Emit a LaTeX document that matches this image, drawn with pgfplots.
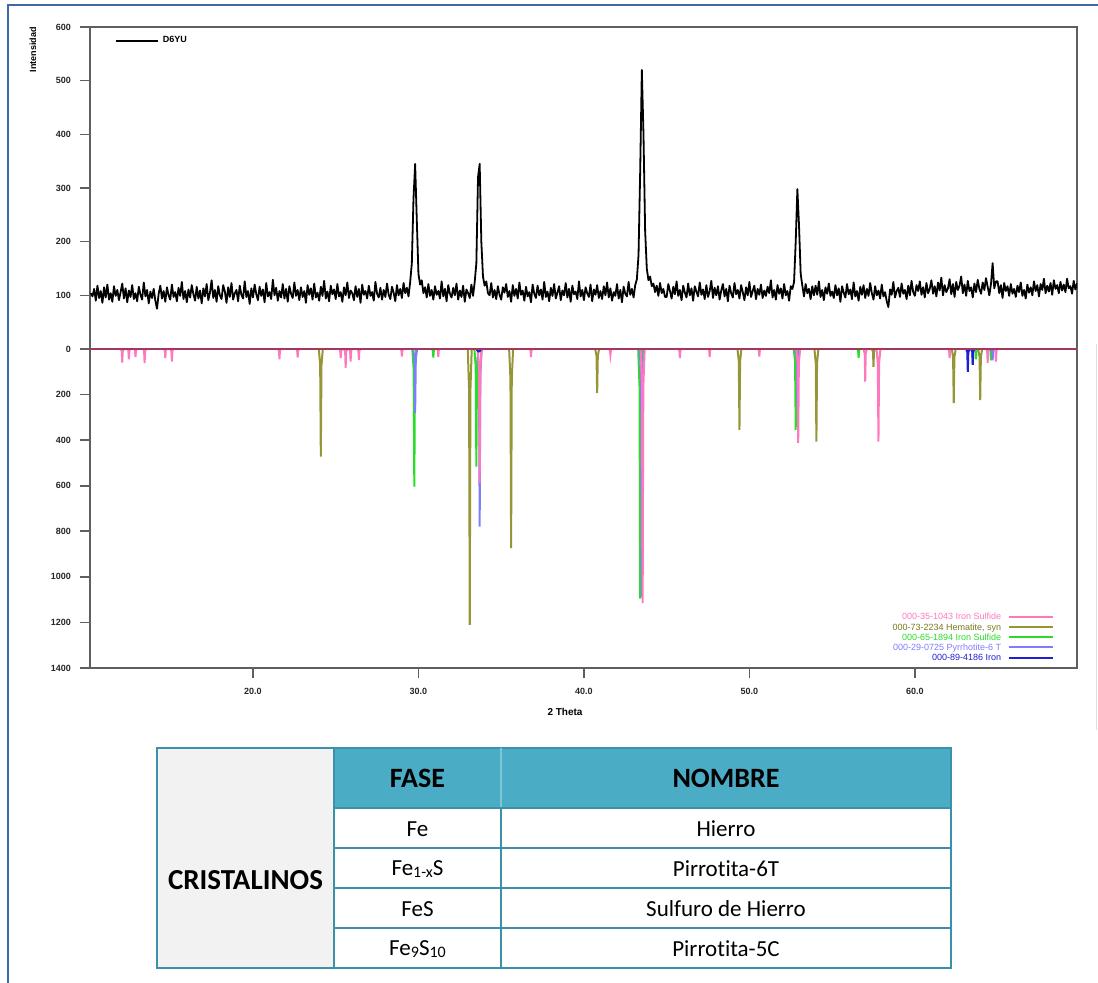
\documentclass[border=0pt]{standalone}
\usepackage{pgfplots}
\pgfplotsset{compat=1.18}
\usepackage{fontspec}
\setmainfont{Liberation Sans}
\newfontfamily\carlito[Ligatures=NoCommon]{Carlito}
\definecolor{framegray}{RGB}{95,95,95}
\definecolor{zeroc}{RGB}{165,55,95}
\definecolor{pinkc}{RGB}{255,120,190}
\definecolor{olivec}{RGB}{150,150,55}
\definecolor{olivet}{RGB}{120,120,30}
\definecolor{greenc}{RGB}{40,220,40}
\definecolor{violc}{RGB}{125,125,255}
\definecolor{dbluec}{RGB}{30,30,210}
\definecolor{bluefr}{RGB}{65,105,170}
\definecolor{tealh}{RGB}{75,172,198}
\definecolor{tealb}{RGB}{60,145,170}
\definecolor{cellgray}{RGB}{242,242,242}
\begin{document}
\begin{tikzpicture}
\tikzset{lbl/.style={font=\fontsize{4.5}{5}\selectfont\bfseries}}
% ---------------- upper panel: measured pattern
\begin{axis}[
  at={(45pt,-174.5pt)}, anchor=south west,
  scale only axis, width=493.5pt, height=161pt,
  xmin=10.15, xmax=69.8, ymin=0, ymax=600,
  xtick=\empty, ytick={100,200,300,400,500,600}, yticklabels={100,200,300,400,500,600},
  ytick pos=left, tick align=outside, major tick length=5pt,
  axis line style={framegray, line width=1pt},
  major tick style={framegray, line width=0.8pt},
  tick label style={font=\fontsize{4.5}{5}\selectfont\bfseries, text=black!85},
  yticklabel style={xshift=-1pt},
  legend style={at={(0.025,0.985)}, anchor=north west, draw=none, fill=none,
    font=\fontsize{4.5}{5}\selectfont\bfseries, inner sep=0pt},
  legend image code/.code={\draw[#1] (0pt,0pt) -- (21pt,0pt);},
]
\addplot[black, line width=0.9pt, line join=round] coordinates {
(10.2,104)(10.3,98)(10.4,112)(10.5,90)(10.6,118)(10.7,95)(10.8,108)(10.9,86)
(11.0,115)(11.1,96)(11.2,120)(11.3,92)(11.4,104)(11.5,88)(11.6,117)(11.7,99)(11.8,110)(11.9,91)
(12.0,106)(12.1,122)(12.2,94)(12.3,113)(12.4,87)(12.5,109)(12.6,97)(12.7,119)(12.8,93)(12.9,104)
(13.0,89)(13.1,116)(13.2,101)(13.3,92)(13.4,124)(13.5,98)(13.6,110)(13.7,85)(13.8,107)(13.9,95)
(14.0,112)(14.1,90)(14.2,75)(14.3,103)(14.4,118)(14.5,94)(14.6,108)(14.7,88)(14.8,115)(14.9,100)
(15.0,92)(15.1,120)(15.2,97)(15.3,106)(15.4,89)(15.5,114)(15.6,99)(15.7,125)(15.8,93)(15.9,108)
(16.0,87)(16.1,111)(16.2,96)(16.3,119)(16.4,102)(16.5,90)(16.6,116)(16.7,94)(16.8,109)(16.9,85)
(17.0,113)(17.1,98)(17.2,121)(17.3,91)(17.4,105)(17.5,128)(17.6,95)(17.7,110)(17.8,88)(17.9,117)
(18.0,100)(18.1,93)(18.2,119)(18.3,107)(18.4,86)(18.5,115)(18.6,97)(18.7,123)(18.8,92)(18.9,104)
(19.0,110)(19.1,89)(19.2,118)(19.3,101)(19.4,94)(19.5,126)(19.6,97)(19.7,108)(19.8,84)(19.9,113)
(20.0,96)(20.1,120)(20.2,102)(20.3,91)(20.4,116)(20.5,99)(20.6,111)(20.7,87)(20.8,123)(20.9,98)
(21.0,106)(21.1,93)(21.2,129)(21.3,100)(21.4,114)(21.5,90)(21.6,108)(21.7,96)(21.8,121)(21.9,94)
(22.0,112)(22.1,88)(22.2,117)(22.3,103)(22.4,95)(22.5,124)(22.6,99)(22.7,110)(22.8,91)(22.9,115)
(23.0,97)(23.1,108)(23.2,86)(23.3,119)(23.4,101)(23.5,113)(23.6,92)(23.7,122)(23.8,96)(23.9,105)
(24.0,90)(24.1,116)(24.2,99)(24.3,127)(24.4,94)(24.5,107)(24.6,89)(24.7,118)(24.8,102)(24.9,111)
(25.0,93)(25.1,121)(25.2,98)(25.3,106)(25.4,88)(25.5,115)(25.6,100)(25.7,124)(25.8,95)(25.9,109)
(26.0,104)(26.1,91)(26.2,117)(26.3,97)(26.4,112)(26.5,86)(26.6,120)(26.7,101)(26.8,108)(26.9,94)
(27.0,118)(27.1,99)(27.2,106)(27.3,90)(27.4,125)(27.5,103)(27.6,96)(27.7,114)(27.8,92)(27.9,110)
(28.0,97)(28.1,122)(28.2,101)(28.3,93)(28.4,116)(28.5,105)(28.6,89)(28.7,119)(28.8,100)(28.9,112)
(29.0,95)(29.1,123)(29.2,104)(29.3,114)(29.4,98)(29.5,125)(29.6,160)(29.7,280)(29.8,345)(29.9,240)
(30.0,140)(30.1,120)(30.2,128)(30.3,104)(30.4,115)(30.5,96)(30.6,121)(30.7,99)(30.8,110)(30.9,92)
(31.0,117)(31.1,101)(31.2,108)(31.3,94)(31.4,126)(31.5,98)(31.6,112)(31.7,89)(31.8,119)(31.9,103)
(32.0,96)(32.1,114)(32.2,100)(32.3,122)(32.4,92)(32.5,109)(32.6,97)(32.7,118)(32.8,88)(32.9,111)
(33.0,104)(33.1,95)(33.2,120)(33.3,99)(33.4,125)(33.5,160)(33.6,320)(33.7,345)(33.8,200)(33.9,135)
(34.0,118)(34.1,126)(34.2,104)(34.3,100)(34.4,123)(34.5,96)(34.6,110)(34.7,93)(34.8,117)(34.9,101)
(35.0,92)(35.1,115)(35.2,105)(35.3,121)(35.4,97)(35.5,108)(35.6,88)(35.7,119)(35.8,99)(35.9,112)
(36.0,94)(36.1,124)(36.2,101)(36.3,109)(36.4,90)(36.5,116)(36.6,98)(36.7,106)(36.8,87)(36.9,120)
(37.0,103)(37.1,95)(37.2,118)(37.3,100)(37.4,111)(37.5,92)(37.6,125)(37.7,97)(37.8,107)(37.9,89)
(38.0,114)(38.1,99)(38.2,121)(38.3,94)(38.4,105)(38.5,117)(38.6,91)(38.7,109)(38.8,100)(38.9,123)
(39.0,96)(39.1,112)(39.2,88)(39.3,118)(39.4,102)(39.5,107)(39.6,93)(39.7,126)(39.8,98)(39.9,110)
(40.0,91)(40.1,115)(40.2,104)(40.3,97)(40.4,120)(40.5,89)(40.6,111)(40.7,101)(40.8,119)(40.9,95)
(41.0,108)(41.1,93)(41.2,117)(41.3,100)(41.4,124)(41.5,96)(41.6,113)(41.7,90)(41.8,106)(41.9,99)
(42.0,121)(42.1,94)(42.2,110)(42.3,87)(42.4,116)(42.5,103)(42.6,98)(42.7,125)(42.8,101)(42.9,112)
(43.0,96)(43.1,119)(43.2,130)(43.3,175)(43.4,330)(43.5,520)(43.6,400)(43.7,220)(43.8,150)(43.9,128)
(44.0,135)(44.1,117)(44.2,122)(44.3,106)(44.4,118)(44.5,99)(44.6,123)(44.7,104)(44.8,112)(44.9,97)
(45.0,97)(45.1,121)(45.2,108)(45.3,94)(45.4,116)(45.5,102)(45.6,126)(45.7,99)(45.8,110)(45.9,91)
(46.0,118)(46.1,105)(46.2,96)(46.3,122)(46.4,100)(46.5,113)(46.6,90)(46.7,117)(46.8,107)(46.9,98)
(47.0,124)(47.1,101)(47.2,111)(47.3,93)(47.4,119)(47.5,97)(47.6,108)(47.7,127)(47.8,95)(47.9,114)
(48.0,100)(48.1,117)(48.2,92)(48.3,109)(48.4,121)(48.5,98)(48.6,112)(48.7,89)(48.8,118)(48.9,104)
(49.0,96)(49.1,123)(49.2,102)(49.3,110)(49.4,94)(49.5,119)(49.6,106)(49.7,91)(49.8,115)(49.9,100)
(50.0,125)(50.1,97)(50.2,108)(50.3,118)(50.4,93)(50.5,112)(50.6,101)(50.7,120)(50.8,95)(50.9,109)
(51.0,99)(51.1,116)(51.2,104)(51.3,128)(51.4,96)(51.5,110)(51.6,92)(51.7,119)(51.8,103)(51.9,113)
(52.0,94)(52.1,121)(52.2,100)(52.3,108)(52.4,90)(52.5,117)(52.6,112)(52.7,125)(52.8,200)(52.9,298)
(53.0,230)(53.1,140)(53.2,118)(53.3,98)(53.4,121)(53.5,104)(53.6,112)(53.7,93)(53.8,117)(53.9,100)
(54.0,118)(54.1,101)(54.2,126)(54.3,97)(54.4,110)(54.5,91)(54.6,115)(54.7,103)(54.8,122)(54.9,99)
(55.0,107)(55.1,95)(55.2,119)(55.3,100)(55.4,113)(55.5,88)(55.6,117)(55.7,105)(55.8,96)(55.9,121)
(56.0,102)(56.1,111)(56.2,93)(56.3,124)(56.4,98)(56.5,108)(56.6,90)(56.7,116)(56.8,101)(56.9,119)
(57.0,95)(57.1,112)(57.2,99)(57.3,123)(57.4,104)(57.5,92)(57.6,117)(57.7,100)(57.8,109)(57.9,94)
(58.0,120)(58.1,98)(58.2,106)(58.3,89)(58.4,78)(58.5,111)(58.6,101)(58.7,125)(58.8,96)(58.9,108)
(59.0,114)(59.1,97)(59.2,122)(59.3,103)(59.4,110)(59.5,93)(59.6,118)(59.7,100)(59.8,127)(59.9,106)
(60.0,99)(60.1,119)(60.2,108)(60.3,126)(60.4,101)(60.5,115)(60.6,96)(60.7,123)(60.8,104)(60.9,112)
(61.0,128)(61.1,103)(61.2,117)(61.3,98)(61.4,124)(61.5,109)(61.6,133)(61.7,100)(61.8,119)(61.9,106)
(62.0,113)(62.1,130)(62.2,102)(62.3,121)(62.4,97)(62.5,125)(62.6,110)(62.7,118)(62.8,135)(62.9,104)
(63.0,120)(63.1,99)(63.2,127)(63.3,108)(63.4,115)(63.5,96)(63.6,122)(63.7,106)(63.8,129)(63.9,112)
(64.0,103)(64.1,124)(64.2,110)(64.3,132)(64.4,116)(64.5,100)(64.6,121)(64.7,160)(64.8,113)(64.9,126)
(65.0,126)(65.1,104)(65.2,119)(65.3,95)(65.4,123)(65.5,108)(65.6,117)(65.7,99)(65.8,121)(65.9,103)
(66.0,112)(66.1,97)(66.2,118)(66.3,106)(66.4,124)(66.5,99)(66.6,110)(66.7,94)(66.8,120)(66.9,105)
(67.0,115)(67.1,100)(67.2,126)(67.3,108)(67.4,119)(67.5,98)(67.6,121)(67.7,110)(67.8,131)(67.9,104)
(68.0,118)(68.1,107)(68.2,123)(68.3,101)(68.4,128)(68.5,112)(68.6,119)(68.7,104)(68.8,125)(68.9,109)
(69.0,120)(69.1,106)(69.2,131)(69.3,113)(69.4,117)(69.5,103)(69.6,127)(69.7,111)(69.8,122)(69.9,108)
(70.0,125)};
\addlegendentry{D6YU}
\end{axis}
% ---------------- lower panel: reference patterns
\begin{axis}[
  at={(45pt,-174.5pt)}, anchor=north west,
  scale only axis, width=493.5pt, height=159.5pt,
  xmin=10.15, xmax=69.8, ymin=-1400, ymax=0,
  xtick={20,30,40,50,60}, xticklabels={20.0,30.0,40.0,50.0,60.0},
  ytick={-1400,-1200,-1000,-800,-600,-400,-200,0},
  yticklabels={1400,1200,1000,800,600,400,200,0},
  xtick pos=left, ytick pos=left, tick align=outside, major tick length=5pt,
  axis line style={framegray, line width=1pt},
  major tick style={framegray, line width=0.8pt},
  tick label style={font=\fontsize{4.5}{5}\selectfont\bfseries, text=black!85},
  yticklabel style={xshift=-1pt},
  xticklabel style={yshift=-1.5pt},
  legend plot pos=right, legend cell align=right,
  legend style={at={(0.977,0.176)}, anchor=north east, draw=none, fill=none,
    font=\fontsize{4.5}{5}\selectfont, inner sep=0pt, row sep=0pt, column sep=3pt,
    nodes={inner sep=0.4pt, text height=3.4pt, text depth=0.9pt}},
  legend image code/.code={\draw[#1] (0pt,0.3pt) -- (22pt,0.3pt);},
]
\addlegendimage{pinkc, line width=1pt}
\addlegendentry{\textcolor{pinkc}{000-35-1043 Iron Sulfide}}
\addlegendimage{olivec, line width=1pt}
\addlegendentry{\textcolor{olivet}{000-73-2234 Hematite, syn}}
\addlegendimage{greenc, line width=1pt}
\addlegendentry{\textcolor{greenc}{000-65-1894 Iron Sulfide}}
\addlegendimage{violc, line width=1pt}
\addlegendentry{\textcolor{violc}{000-29-0725 Pyrrhotite-6 T}}
\addlegendimage{dbluec, line width=1pt}
\addlegendentry{\textcolor{dbluec}{000-89-4186 Iron}}
% Hematite
\addplot[olivec, line width=1pt, forget plot] coordinates {
(10.15,0)
(23.98,0)(24.06,-71)(24.1,-472)(24.14,-71)(24.22,0)
(32.98,0)(33.06,-182)(33.1,-1211)(33.14,-182)(33.22,0)
(35.48,0)(35.56,-131)(35.6,-874)(35.64,-131)(35.72,0)
(40.68,0)(40.76,-29)(40.8,-194)(40.84,-29)(40.92,0)
(49.28,0)(49.36,-53)(49.4,-355)(49.44,-53)(49.52,0)
(53.93,0)(54.01,-61)(54.05,-407)(54.09,-61)(54.17,0)
(57.4,0)(57.47,-12)(57.5,-78)(57.53,-12)(57.6,0)
(62.23,0)(62.31,-36)(62.35,-237)(62.39,-36)(62.47,0)
(63.83,0)(63.91,-34)(63.95,-224)(63.99,-34)(64.07,0)
(69.8,0)};
% Iron sulfide 65-1894
\addplot[greenc, line width=1pt, forget plot] coordinates {
(10.15,0)
(29.63,0)(29.71,-91)(29.75,-604)(29.79,-91)(29.87,0)
(30.8,0)(30.87,-6)(30.9,-38)(30.93,-6)(31.0,0)
(33.38,0)(33.46,-77)(33.5,-516)(33.54,-77)(33.62,0)
(43.28,0)(43.36,-164)(43.4,-1095)(43.44,-164)(43.52,0)
(52.68,0)(52.76,-53)(52.8,-355)(52.84,-53)(52.92,0)
(56.5,0)(56.57,-6)(56.6,-39)(56.63,-6)(56.7,0)
(63.6,0)(63.67,-7)(63.7,-45)(63.73,-7)(63.8,0)
(64.5,0)(64.57,-8)(64.6,-50)(64.63,-8)(64.7,0)
(69.8,0)};
% Pyrrhotite-6T
\addplot[violc, line width=1pt, forget plot] coordinates {
(10.15,0)
(29.68,0)(29.76,-42)(29.8,-281)(29.84,-42)(29.92,0)
(33.58,0)(33.66,-117)(33.7,-779)(33.74,-117)(33.82,0)
(43.38,0)(43.46,-164)(43.5,-1090)(43.54,-164)(43.62,0)
(52.78,0)(52.86,-38)(52.9,-254)(52.94,-38)(53.02,0)
(63.4,0)(63.47,-11)(63.5,-70)(63.53,-11)(63.6,0)
(64.6,0)(64.67,-8)(64.7,-50)(64.73,-8)(64.8,0)
(69.8,0)};
% Iron sulfide 35-1043
\addplot[pinkc, line width=1pt, forget plot] coordinates {
(10.15,0)
(12.0,0)(12.07,-9)(12.1,-60)(12.13,-9)(12.2,0)
(12.4,0)(12.47,-7)(12.5,-45)(12.53,-7)(12.6,0)
(12.8,0)(12.87,-5)(12.9,-35)(12.93,-5)(13.0,0)
(13.35,0)(13.42,-9)(13.45,-62)(13.48,-9)(13.55,0)
(14.6,0)(14.67,-6)(14.7,-40)(14.73,-6)(14.8,0)
(15.0,0)(15.07,-8)(15.1,-55)(15.13,-8)(15.2,0)
(21.5,0)(21.57,-7)(21.6,-45)(21.63,-7)(21.7,0)
(22.6,0)(22.67,-6)(22.7,-38)(22.73,-6)(22.8,0)
(25.2,0)(25.27,-6)(25.3,-40)(25.33,-6)(25.4,0)
(25.5,0)(25.57,-12)(25.6,-83)(25.63,-12)(25.7,0)
(25.8,0)(25.87,-8)(25.9,-55)(25.93,-8)(26.0,0)
(26.3,0)(26.37,-7)(26.4,-48)(26.43,-7)(26.5,0)
(28.9,0)(28.97,-5)(29.0,-33)(29.03,-5)(29.1,0)
(31.1,0)(31.17,-5)(31.2,-35)(31.23,-5)(31.3,0)
(33.58,0)(33.66,-88)(33.7,-589)(33.74,-88)(33.82,0)
(36.7,0)(36.77,-5)(36.8,-35)(36.83,-5)(36.9,0)
(41.5,0)(41.57,-4)(41.6,-25)(41.63,-4)(41.7,0)
(43.43,0)(43.51,-167)(43.55,-1115)(43.59,-167)(43.67,0)
(45.7,0)(45.77,-6)(45.8,-40)(45.83,-6)(45.9,0)
(47.5,0)(47.57,-5)(47.6,-35)(47.63,-5)(47.7,0)
(50.5,0)(50.57,-5)(50.6,-33)(50.63,-5)(50.7,0)
(52.83,0)(52.91,-62)(52.95,-412)(52.99,-62)(53.07,0)
(56.9,0)(56.97,-21)(57.0,-143)(57.03,-21)(57.1,0)
(57.68,0)(57.76,-61)(57.8,-407)(57.84,-61)(57.92,0)
(62.0,0)(62.07,-6)(62.1,-40)(62.13,-6)(62.2,0)
(64.3,0)(64.37,-9)(64.4,-61)(64.43,-9)(64.5,0)
(64.8,0)(64.87,-8)(64.9,-55)(64.93,-8)(65.0,0)
(69.8,0)};
% Iron
\addplot[dbluec, line width=1pt, forget plot] coordinates {
(33.5,0)(33.6,-10)(33.7,-10)(33.8,0)
(63.1,0)(63.17,-15)(63.2,-100)(63.23,-15)(63.3,0)
(63.4,0)(63.47,-11)(63.5,-70)(63.53,-11)(63.6,0)};
% zero line
\addplot[zeroc, line width=0.9pt, forget plot] coordinates {(10.15,0)(69.8,0)};
\end{axis}
% axis titles
\node[lbl, rotate=90] at (16.5pt,-25pt) {Intensidad};
\node[lbl, font=\fontsize{5}{6}\selectfont\bfseries] at (282.5pt,-356pt) {2 Theta};
% outer frame
\draw[bluefr, line width=1pt] (4pt,-491.5pt) -- (4pt,-2.5pt) -- (549pt,-2.5pt);
\draw[black!12, line width=0.4pt] (548pt,-172pt) -- (548pt,-365pt);
% ---------------- table
\fill[cellgray] (78.5pt,-374pt) rectangle (167pt,-484pt);
\fill[tealh] (167pt,-374pt) rectangle (475.5pt,-404pt);
\begin{scope}[tealb, line width=1pt]
\draw (78.5pt,-374pt) rectangle (475.5pt,-484pt);
\draw (167pt,-374pt) -- (167pt,-484pt);
\draw (250.5pt,-404pt) -- (250.5pt,-484pt);
\draw[tealh!70!white, line width=0.6pt] (250.5pt,-374pt) -- (250.5pt,-404pt);
\draw (167pt,-404pt) -- (475.5pt,-404pt);
\draw (167pt,-424pt) -- (475.5pt,-424pt);
\draw (167pt,-444pt) -- (475.5pt,-444pt);
\draw (167pt,-464pt) -- (475.5pt,-464pt);
\end{scope}
\begin{scope}[every node/.style={font=\carlito\fontsize{11.5}{13}\selectfont, inner sep=0pt}]
\node[font=\carlito\bfseries\fontsize{14}{16}\selectfont] at (208.75pt,-389pt) {FASE};
\node[font=\carlito\bfseries\fontsize{14}{16}\selectfont] at (363pt,-389pt) {NOMBRE};
\node[font=\carlito\bfseries\fontsize{14.5}{16}\selectfont] at (122.75pt,-440pt) {CRISTALINOS};
\node at (208.75pt,-414.5pt) {Fe};
\node at (363pt,-414.5pt) {Hierro};
\node at (208.75pt,-434.5pt) {Fe\raisebox{-0.8pt}{\fontsize{8}{8}\selectfont 1-x}S};
\node at (363pt,-434.5pt) {Pirrotita-6T};
\node at (208.75pt,-454.5pt) {FeS};
\node at (363pt,-454.5pt) {Sulfuro de Hierro};
\node at (208.75pt,-474.5pt) {Fe\raisebox{-0.8pt}{\fontsize{8}{8}\selectfont 9}S\raisebox{-0.8pt}{\fontsize{8}{8}\selectfont 10}};
\node at (363pt,-474.5pt) {Pirrotita-5C};
\end{scope}
\pgfresetboundingbox
\path[use as bounding box] (0pt,0pt) rectangle (549pt,-491.5pt);
\end{tikzpicture}
\end{document}
